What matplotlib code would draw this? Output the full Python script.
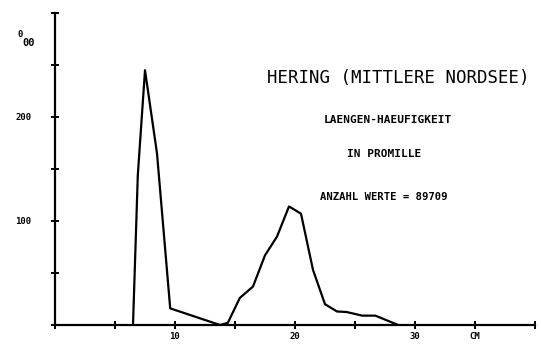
import matplotlib
matplotlib.use("Agg")
import matplotlib.pyplot as plt

# length classes (cm) and frequency (promille)
length_cm = [6.5, 6.9, 7.5, 8.5, 9.6, 13.75, 14.4, 15.4, 16.5, 17.5, 18.5, 19.5,
             20.5, 21.5, 22.5, 23.5, 24.3, 25.6, 26.7, 28.6]
promille = [0, 144, 245, 165, 16, 0, 2, 26, 37, 67, 85, 114,
            107, 53, 20, 13, 12.5, 9, 9, 0]

x_ticks = [0, 5, 10, 15, 20, 25, 30, 35, 40]
x_labels = ['', '', '10', '', '20', '', '30', 'CM', '']
y_ticks = [0, 50, 100, 150, 200, 250, 300]
y_labels = ['', '', '100', '', '200', '', '']

title = 'HERING (MITTLERE NORDSEE)'
info_lines = ['LAENGEN-HAEUFIGKEIT', 'IN PROMILLE', 'ANZAHL WERTE = 89709']

fig = plt.figure(figsize=(5.41, 3.45), dpi=100)
ax = fig.add_axes([55 / 541, 20 / 345, 480 / 541, 312 / 345])

ax.plot(length_cm, promille, color='black', linewidth=1.6)

ax.set_xlim(0, 40)
ax.set_ylim(0, 300)
for s in ['top', 'right']:
    ax.spines[s].set_visible(False)
for s in ['left', 'bottom']:
    ax.spines[s].set_linewidth(1.6)

font = dict(family='DejaVu Sans Mono', fontweight='bold')
ax.set_xticks(x_ticks)
ax.set_xticklabels(x_labels, fontsize=6.5, **font)
ax.set_yticks(y_ticks)
ax.set_yticklabels(y_labels, fontsize=6.5, **font)
ax.tick_params(axis='both', direction='inout', length=6, width=1.4)
ax.tick_params(axis='x', pad=2)
ax.tick_params(axis='y', pad=14)

# promille sign at the top of the y axis
ax.text(-2.9, 279, '0', fontsize=6.5, ha='center', va='center', clip_on=False, **font)
ax.text(-2.75, 271.5, '00', fontsize=7.5, ha='left', va='center', clip_on=False, **font)

ax.text(28.6, 237.5, title, fontsize=12.5, ha='center', va='center', family='DejaVu Sans Mono')
ax.text(27.7, 197, info_lines[0], fontsize=8, ha='center', va='center', **font)
ax.text(27.4, 164, info_lines[1], fontsize=8, ha='center', va='center', **font)
ax.text(27.4, 123, info_lines[2], fontsize=7.6, ha='center', va='center', **font)

fig.savefig('out.png', dpi=100)
